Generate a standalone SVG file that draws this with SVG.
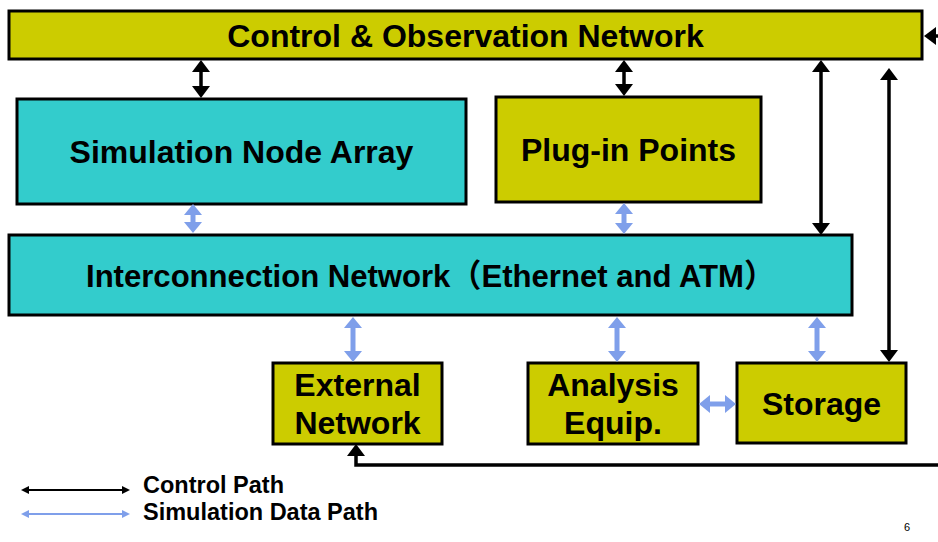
<svg xmlns="http://www.w3.org/2000/svg" width="938" height="542" viewBox="0 0 938 542">
  <style>
    .olive { fill: #CCCC00; stroke: #000; stroke-width: 3; }
    .cyan { fill: #33CCCC; stroke: #000; stroke-width: 3; }
    .lbl { font-family: "Liberation Sans", Arial, "Noto Sans CJK SC", sans-serif; font-weight: bold; font-size: 32px; fill: #000; text-anchor: middle; }
    .ctl { fill: none; stroke: #000; stroke-width: 3.5; marker-start: url(#hk); marker-end: url(#hk); }
    .dat { fill: none; stroke: #7F9FEA; stroke-width: 5; marker-start: url(#hb); marker-end: url(#hb); }
    .leg { font-family: "Liberation Sans", Arial, sans-serif; font-weight: bold; font-size: 23.5px; fill: #000; }
  </style>
  <defs>
    <marker id="hk" markerUnits="userSpaceOnUse" viewBox="0 0 12 18" markerWidth="12" markerHeight="18" refX="0" refY="9" orient="auto-start-reverse">
      <path d="M0,0 L12,9 L0,18 z" fill="#000"/>
    </marker>
    <marker id="hb" markerUnits="userSpaceOnUse" viewBox="0 0 11 18" markerWidth="11" markerHeight="18" refX="0" refY="9" orient="auto-start-reverse">
      <path d="M0,0 L11,9 L0,18 z" fill="#7F9FEA"/>
    </marker>
    <marker id="hks" markerUnits="userSpaceOnUse" viewBox="0 0 8 8" markerWidth="8" markerHeight="8" refX="0" refY="4" orient="auto-start-reverse">
      <path d="M0,0 L8,4 L0,8 z" fill="#000"/>
    </marker>
    <marker id="hbs" markerUnits="userSpaceOnUse" viewBox="0 0 8 8" markerWidth="8" markerHeight="8" refX="0" refY="4" orient="auto-start-reverse">
      <path d="M0,0 L8,4 L0,8 z" fill="#7F9FEA"/>
    </marker>
  </defs>

  <rect width="938" height="542" fill="#fff"/>

  <g id="control-observation-network">
    <rect class="olive" x="9" y="11" width="913" height="48"/>
    <text class="lbl" x="465.5" y="47">Control &amp; Observation Network</text>
  </g>

  <g id="simulation-node-array">
    <rect class="cyan" x="17" y="99" width="449" height="105"/>
    <text class="lbl" x="241.5" y="163">Simulation Node Array</text>
  </g>

  <g id="plug-in-points">
    <rect class="olive" x="496" y="97" width="265" height="105"/>
    <text class="lbl" x="628.5" y="161">Plug-in Points</text>
  </g>

  <g id="interconnection-network">
    <rect class="cyan" x="9" y="235" width="843" height="80"/>
    <text class="lbl" x="86" y="287" style="text-anchor:start" textLength="689" lengthAdjust="spacingAndGlyphs">Interconnection Network（Ethernet and ATM）</text>
  </g>

  <g id="external-network">
    <rect class="olive" x="273" y="363" width="169" height="81"/>
    <text class="lbl" x="357.5" y="396">External</text>
    <text class="lbl" x="357.5" y="434">Network</text>
  </g>

  <g id="analysis-equip">
    <rect class="olive" x="528" y="363" width="170" height="81"/>
    <text class="lbl" x="613" y="396">Analysis</text>
    <text class="lbl" x="613" y="434">Equip.</text>
  </g>

  <g id="storage">
    <rect class="olive" x="737" y="363" width="169" height="80"/>
    <text class="lbl" x="821.5" y="415">Storage</text>
  </g>

  <g id="connectors">
    <!-- control paths -->
    <path class="ctl" d="M201,72 V86"/>
    <path class="ctl" d="M624,72 V84"/>
    <path class="ctl" d="M821,72 V223"/>
    <path class="ctl" d="M889,80 V350"/>
    <path d="M938,36 H936" fill="none" stroke="#000" stroke-width="3.5" marker-end="url(#hk)"/>
    <path d="M938,465 H356 V456" fill="none" stroke="#000" stroke-width="3.5" marker-end="url(#hk)"/>
    <!-- simulation data paths -->
    <path class="dat" d="M193,215 V222"/>
    <path class="dat" d="M624,214 V223"/>
    <path class="dat" d="M353,328 V351"/>
    <path class="dat" d="M617,328 V351"/>
    <path class="dat" d="M817,328 V351"/>
    <path class="dat" d="M710,404 H725"/>
  </g>

  <g id="legend">
    <path d="M29,490 H122" stroke="#000" stroke-width="2" marker-start="url(#hks)" marker-end="url(#hks)"/>
    <path d="M29,514 H122" stroke="#7F9FEA" stroke-width="2" marker-start="url(#hbs)" marker-end="url(#hbs)"/>
    <text class="leg" x="143" y="493">Control Path</text>
    <text class="leg" x="143" y="520">Simulation Data Path</text>
  </g>

  <text x="907" y="531" font-family="Liberation Sans, Arial, sans-serif" font-size="11" text-anchor="middle" fill="#000">6</text>
</svg>
